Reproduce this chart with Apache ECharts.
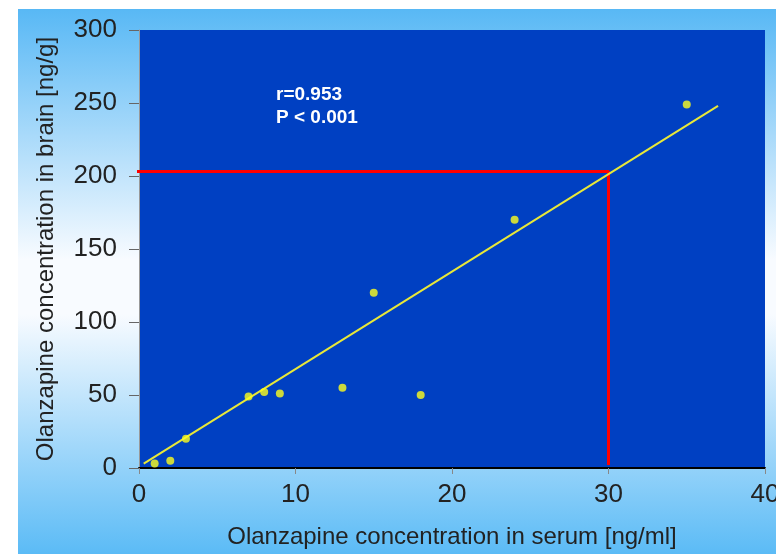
<!DOCTYPE html>
<html>
<head>
<meta charset="utf-8">
<script src="https://cdn.jsdelivr.net/npm/echarts@6/dist/echarts.min.js"></script>
<style>
html,body{margin:0;padding:0;background:#ffffff;}
#chart{width:776px;height:554px;}
</style>
</head>
<body>
<div id="chart"></div>
<script>
// Data
var serumValues = [1, 2, 3, 7, 8, 9, 13, 15, 18, 24, 35];
var brainValues = [3, 5, 20, 49, 52, 51, 55, 120, 50, 170, 249];
var fitLine = [[0.3, 3], [37, 248]];
var guideLine = [[-0.4, 203], [30, 203], [30, 2]];
var xTicks = [0, 10, 20, 30, 40];
var yTicks = [0, 50, 100, 150, 200, 250, 300];
var statText = ['r=0.953', 'P < 0.001'];
var xTitle = 'Olanzapine concentration in serum [ng/ml]';
var yTitle = 'Olanzapine concentration in brain [ng/g]';

var points = serumValues.map(function (x, i) { return [x, brainValues[i]]; });

var chart = echarts.init(document.getElementById('chart'));
var font = '"Liberation Sans", Arial, sans-serif';

chart.setOption({
  animation: false,
  backgroundColor: '#ffffff',
  graphic: [
    {
      type: 'rect', z: -100, silent: true,
      shape: { x: 18, y: 9, width: 758, height: 545 },
      style: {
        fill: new echarts.graphic.LinearGradient(0, 0, 0, 1, [
          { offset: 0, color: '#58b8f5' },
          { offset: 0.46, color: '#f8fbff' },
          { offset: 0.56, color: '#f8fbff' },
          { offset: 1, color: '#5bbbf6' }
        ])
      }
    },
    {
      type: 'text', z: 100, left: 276, top: 85,
      style: { text: statText[0], fill: '#ffffff', font: 'bold 19px ' + font }
    },
    {
      type: 'text', z: 100, left: 276, top: 108,
      style: { text: statText[1], fill: '#ffffff', font: 'bold 19px ' + font }
    }
  ],
  grid: {
    left: 139, right: 11, top: 30, bottom: 86,
    outerBoundsMode: 'none', containLabel: false,
    show: true, backgroundColor: '#0040c2', borderWidth: 0
  },
  xAxis: {
    type: 'value', min: xTicks[0], max: xTicks[xTicks.length - 1], interval: 10,
    splitLine: { show: false },
    axisLine: { show: true, lineStyle: { color: '#000000', width: 2 } },
    axisTick: { show: true, length: 6, lineStyle: { color: '#888888' } },
    axisLabel: { fontSize: 26, color: '#222222', fontFamily: font, margin: 14 },
    name: xTitle, nameLocation: 'middle', nameGap: 57,
    nameTextStyle: { fontSize: 24, color: '#222222', fontFamily: font }
  },
  yAxis: {
    type: 'value', min: yTicks[0], max: yTicks[yTicks.length - 1], interval: 50,
    splitLine: { show: false },
    axisLine: { show: true, lineStyle: { color: '#999999', width: 1 } },
    axisTick: { show: true, length: 10, lineStyle: { color: '#666666' } },
    axisLabel: { fontSize: 26, color: '#222222', fontFamily: font, margin: 22 },
    name: yTitle, nameLocation: 'middle', nameGap: 81,
    nameTextStyle: { fontSize: 24, color: '#222222', fontFamily: font }
  },
  series: [
    {
      type: 'line', data: guideLine, clip: false, symbol: 'none', z: 3,
      lineStyle: { color: '#ff0000', width: 3 }
    },
    {
      type: 'line', data: fitLine, symbol: 'none', z: 4,
      lineStyle: { color: '#e8e838', width: 2 }
    },
    {
      type: 'scatter', data: points, symbol: 'circle', symbolSize: 8, z: 5,
      itemStyle: { color: '#ffff1a' }
    }
  ]
});
</script>
</body>
</html>
